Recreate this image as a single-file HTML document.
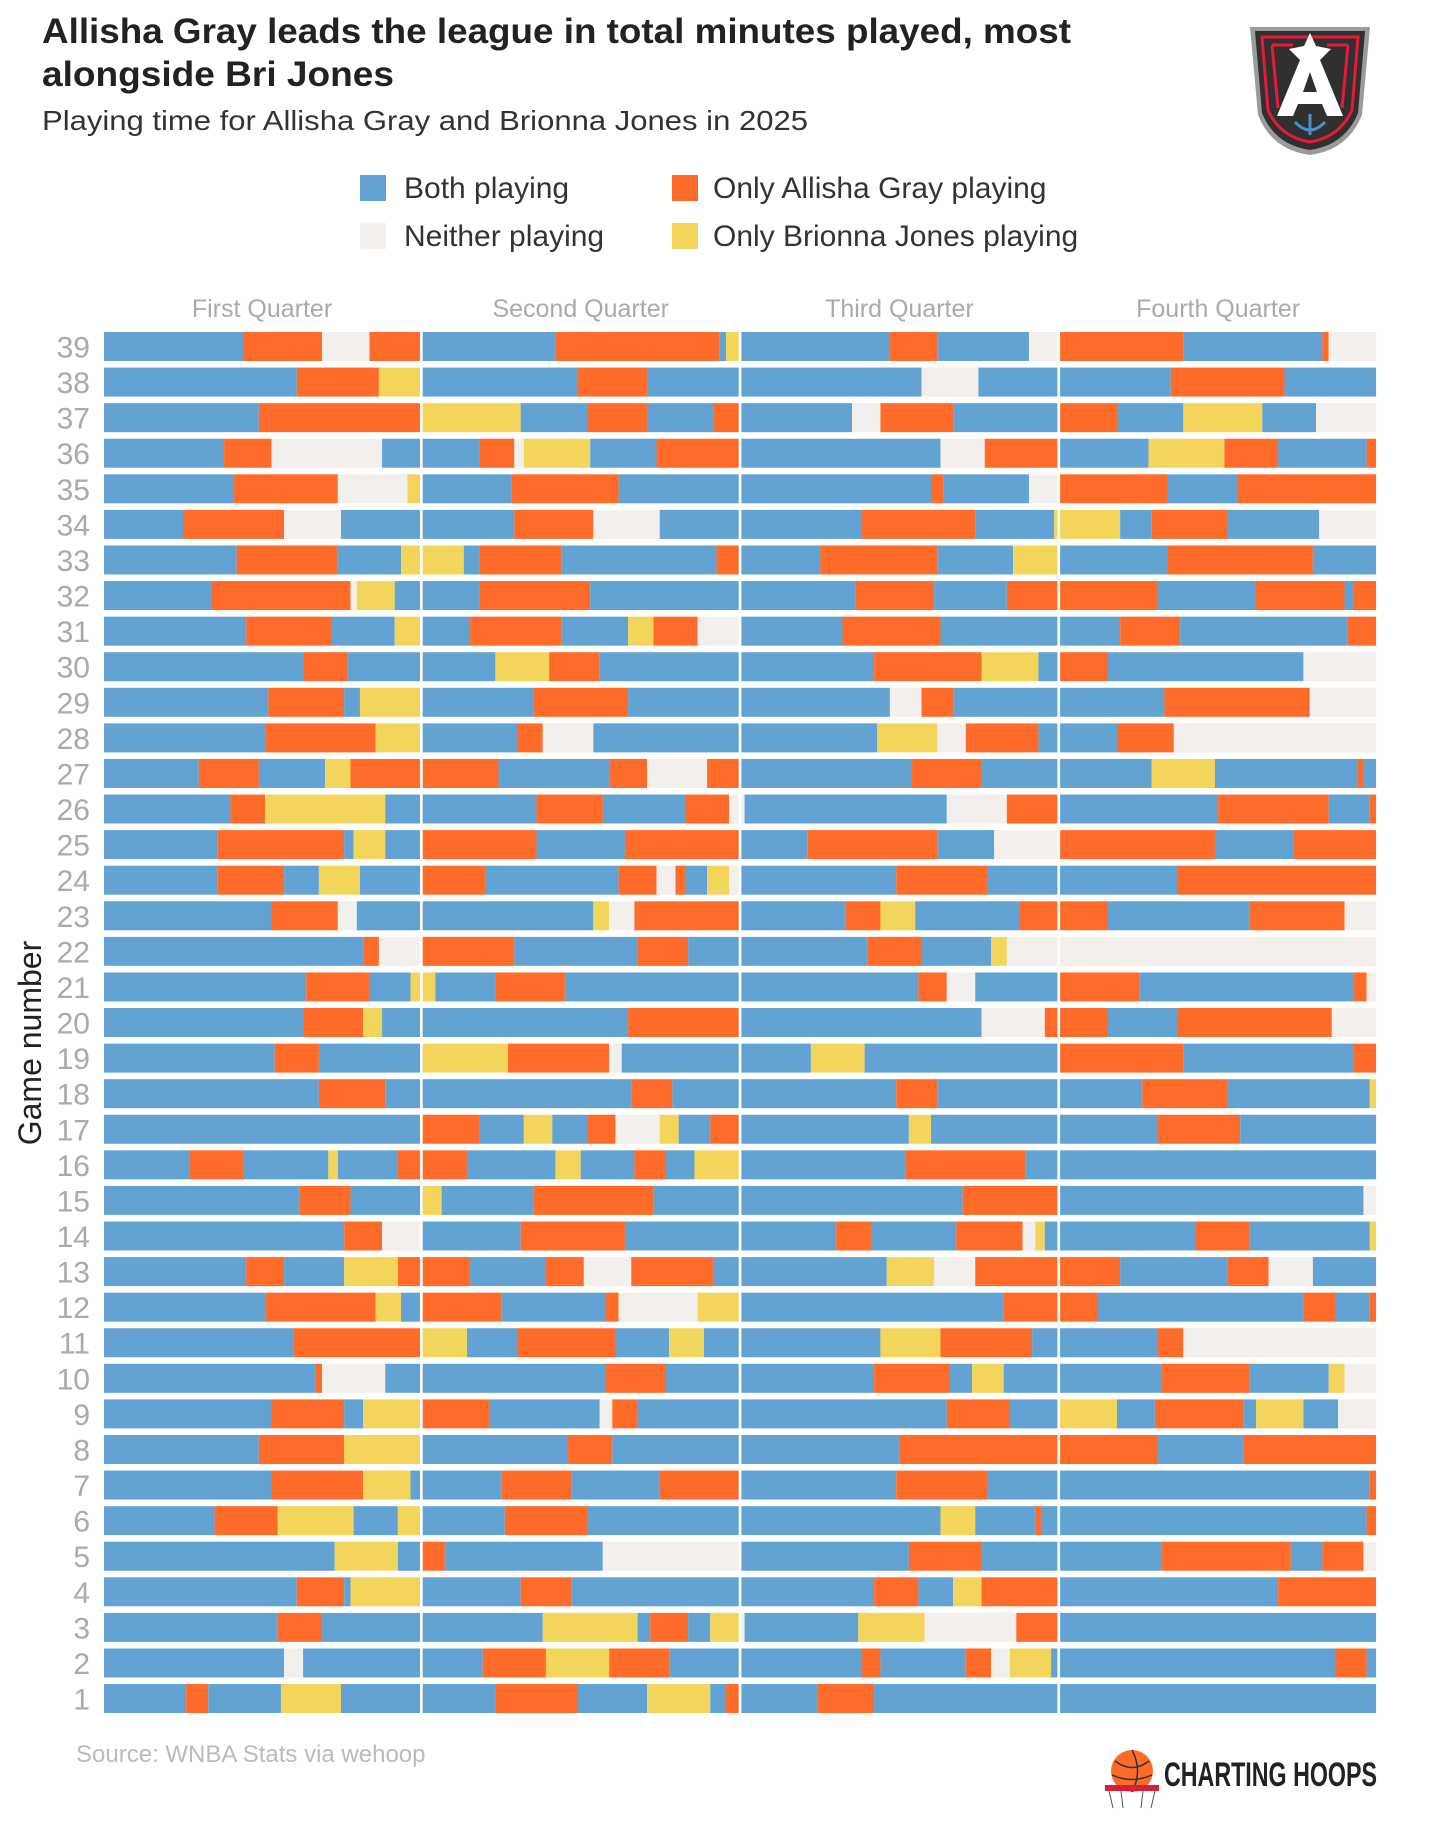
<!DOCTYPE html>
<html><head><meta charset="utf-8"><style>
html,body{margin:0;padding:0;background:#fff;}
body{width:1456px;height:1820px;overflow:hidden;font-family:"Liberation Sans",sans-serif;}
</style></head><body>
<svg id="chart" width="1456" height="1820" viewBox="0 0 1456 1820" xmlns="http://www.w3.org/2000/svg" font-family="Liberation Sans, sans-serif">
<text x="42" y="43" font-size="35" font-weight="bold" fill="#222" textLength="1029" lengthAdjust="spacingAndGlyphs">Allisha Gray leads the league in total minutes played, most</text>
<text x="42" y="86" font-size="35" font-weight="bold" fill="#222" textLength="352" lengthAdjust="spacingAndGlyphs">alongside Bri Jones</text>
<text x="42" y="130" font-size="28" fill="#333" textLength="766" lengthAdjust="spacingAndGlyphs">Playing time for Allisha Gray and Brionna Jones in 2025</text>
<g font-size="30" fill="#333">
<rect x="360" y="175" width="26" height="26" fill="#62A3D3"/>
<text x="404" y="198">Both playing</text>
<rect x="672" y="175" width="26" height="26" fill="#FF6C2A"/>
<text x="713" y="198">Only Allisha Gray playing</text>
<rect x="360" y="223" width="26" height="26" fill="#F3EFEC"/>
<text x="404" y="246">Neither playing</text>
<rect x="672" y="223" width="26" height="26" fill="#F4D55C"/>
<text x="713" y="246">Only Brionna Jones playing</text>
</g>
<g>
<path d="M1250 27 L1370 27 L1362 115 Q1348 150 1310 155 Q1272 150 1258 115 Z" fill="#9a9b9d"/>
<path d="M1255 31 L1365 31 L1358 113 Q1345 145 1310 150 Q1275 145 1262 113 Z" fill="#2f312f"/>
<path d="M1262 37 L1358 37 L1352 110 Q1340 137 1310 142 Q1280 137 1268 110 Z" fill="none" stroke="#e8173d" stroke-width="3"/>
<path d="M1272 45 L1293 45 M1327 45 L1348 45 M1272 45 L1278 108 M1348 45 L1342 108" fill="none" stroke="#e8173d" stroke-width="3"/>
<path d="M1310 33 L1316 46 L1331 49 L1320 60 L1343 116 L1327 116 L1322 104 L1298 104 L1293 116 L1277 116 L1300 60 L1289 49 L1304 46 Z M1310 72 L1303 92 L1317 92 Z" fill="#fff" fill-rule="evenodd"/>
<path d="M1295 122 Q1310 138 1325 122 M1310 114 L1310 135" fill="none" stroke="#4a90d0" stroke-width="3"/>
</g>
<text transform="translate(41,1043) rotate(-90)" text-anchor="middle" font-size="32" fill="#222">Game number</text>
<g id="panels"></g>
<text x="76" y="1762" font-size="24" fill="#bbb">Source: WNBA Stats via wehoop</text>
<g>
<circle cx="1132" cy="1771" r="21" fill="#FF6C2A"/>
<path d="M1115 1761 Q1132 1774 1149 1761 M1132 1750 Q1143 1771 1132 1792 M1112 1775 Q1132 1784 1152 1775" fill="none" stroke="#333" stroke-width="1.5"/>
<rect x="1105" y="1785" width="54" height="6" fill="#d6203a"/>
<path d="M1109 1791 L1113 1808 M1121 1791 L1123 1808 M1143 1791 L1141 1808 M1155 1791 L1151 1808" stroke="#555" stroke-width="1"/>
<text x="1164" y="1786" font-size="34" font-weight="bold" fill="#222" textLength="213" lengthAdjust="spacingAndGlyphs">CHARTING HOOPS</text>
</g>
</svg>
<script>
const games = [1,2,3,4,5,6,7,8,9,10,11,12,13,14,15,16,17,18,19,20,21,22,23,24,25,26,27,28,29,30,31,32,33,34,35,36,37,38,39];
const quarterLabels = ["First Quarter","Second Quarter","Third Quarter","Fourth Quarter"];
const q1 = ["B2.6 G0.7 B2.3 J1.9 B2.5","B5.7 N0.6 B3.7","B5.5 G1.4 B3.1","B6.1 G1.5 B0.2 J2.2","B7.3 J2.0 B0.7","B3.5 G2.0 J2.4 B1.4 J0.7","B5.3 G2.9 J1.5 B0.3","B4.9 G2.7 J2.4","B5.3 G2.3 B0.6 J1.8","B6.7 G0.2 N2.0 B1.1","B6.0 G4.0","B5.1 G3.5 J0.8 B0.6","B4.5 G1.2 B1.9 J1.7 G0.7","B7.6 G1.2 N1.2","B6.2 G1.6 B2.2","B2.7 G1.7 B2.7 J0.3 B1.9 G0.7","B10","B6.8 G2.1 B1.1","B5.4 G1.4 B3.2","B6.3 G1.9 J0.6 B1.2","B6.4 G2.0 B1.3 J0.3","B8.2 G0.5 N1.3","B5.3 G2.1 N0.6 B2.0","B3.6 G2.1 B1.1 J1.3 B1.9","B3.6 G4.0 B0.3 J1.0 B1.1","B4.0 G1.1 J3.8 B1.1","B3.0 G1.9 B2.1 J0.8 G2.2","B5.1 G3.5 J1.4","B5.2 G2.4 B0.5 J1.9","B6.3 G1.4 B2.3","B4.5 G2.7 B2.0 J0.8","B3.4 G4.4 N0.2 J1.2 B0.8","B4.2 G3.2 B2.0 J0.6","B2.5 G3.2 N1.8 B2.5","B4.1 G3.3 N2.2 J0.4","B3.8 G1.5 N3.5 B1.2","B4.9 G5.1","B6.1 G2.6 J1.3","B4.4 G2.5 N1.5 G1.6"];
const q2 = ["B2.3 G2.6 B2.2 J2.0 B0.5 G0.4","B1.9 G2.0 J2.0 G1.9 B2.2","B3.8 J3.0 B0.4 G1.2 B0.7 J0.9","B3.1 G1.6 B5.3","G0.7 B5.0 N4.3","B2.6 G2.6 B4.8","B2.5 G2.2 B2.8 G2.5","B4.6 G1.4 B4.0","G2.1 B3.5 N0.4 G0.8 B3.2","B5.8 G1.9 B2.3","J1.4 B1.6 G3.1 B1.7 J1.1 B1.1","G2.5 B3.3 G0.4 N2.5 J1.3","G1.5 B2.4 G1.2 N1.5 G2.6 B0.8","B3.1 G3.3 B3.6","J0.6 B2.9 G3.8 B2.7","G1.4 B2.8 J0.8 B1.7 G1.0 B0.9 J1.4","G1.8 B1.4 J0.9 B1.1 G0.9 N1.4 J0.6 B1.0 G0.9","B6.6 G1.3 B2.1","J2.7 G3.2 N0.4 B3.7","B6.5 G3.5","J0.4 B1.9 G2.2 B5.5","G2.9 B3.9 G1.6 B1.6","B5.4 J0.5 N0.8 G3.3","G2.0 B4.2 G1.2 N0.6 G0.3 B0.7 J0.7 N0.3","G3.6 B2.8 G3.6","B3.6 G2.1 B2.6 G1.4 N0.3","G2.4 B3.5 G1.2 N1.9 G1.0","B3.0 G0.8 N1.6 B4.6","B3.5 G3.0 B3.5","B2.3 J1.7 G1.6 B4.4","B1.5 G2.9 B2.1 J0.8 G1.4 N1.3","B1.8 G3.5 B4.7","J1.3 B0.5 G2.6 B4.9 G0.7","B2.9 G2.5 N2.1 B2.5","B2.8 G3.4 B3.8","B1.8 G1.1 N0.3 J2.1 B2.1 G2.6","J3.1 B2.1 G1.9 B2.1 G0.8","B4.9 G2.2 B2.9","B4.2 G5.2 B0.2 J0.4"];
const q3 = ["B2.4 G1.8 B5.8","B3.8 G0.6 B2.7 G0.8 N0.6 J1.3 B0.2","N0.1 B3.6 J2.1 N2.9 G1.3","B4.2 G1.4 B1.1 J0.9 G2.4","B5.3 G2.3 B2.4","B6.3 J1.1 B1.9 G0.2 B0.5","B4.9 G2.9 B2.2","B5.0 G5.0","B6.5 G2.0 B1.5","B4.2 G2.4 B0.7 J1.0 B1.7","B4.4 J1.9 G2.9 B0.8","B8.3 G1.7","B4.6 J1.5 N1.3 G2.6","B3.0 G1.1 B2.7 G2.1 N0.4 J0.3 B0.4","B7.0 G3.0","B5.2 G3.8 B1.0","B5.3 J0.7 B4.0","B4.9 G1.3 B3.8","B2.2 J1.7 B6.1","B7.6 N2.0 G0.4","B5.6 G0.9 N0.9 B2.6","B4.0 G1.7 B2.2 J0.5 N1.6","B3.3 G1.1 J1.1 B3.3 G1.2","B4.9 G2.9 B2.2","B2.1 G4.1 B1.8 N2.0","N0.1 B6.4 N1.9 G1.6","B5.4 G2.2 B2.4","B4.3 J1.9 N0.9 G2.3 B0.6","B4.7 N1.0 G1.0 B3.3","B4.2 G3.4 J1.8 B0.6","B3.2 G3.1 B3.7","B3.6 G2.5 B2.3 G1.6","B2.5 G3.7 B2.4 J1.4","B3.8 G3.6 B2.5 J0.1","B6.0 G0.4 B2.7 N0.9","B6.3 N1.4 G2.3","B3.5 N0.9 G2.3 B3.3","B5.7 N1.8 B2.5","B4.7 G1.5 B2.9 N0.9"];
const q4 = ["B10","B8.7 G1.0 B0.3","B10","B6.9 G3.1","B3.2 G4.1 B1.0 G1.3 N0.4","B9.7 G0.3","B9.8 G0.2","G3.1 B2.7 G4.2","J1.8 B1.2 G2.8 B0.4 J1.5 B1.1 N1.2","B3.2 G2.8 B2.5 J0.5 N1.0","B3.1 G0.8 N6.1","G1.2 B6.5 G1.0 B1.1 G0.2","G1.9 B3.4 G1.3 N1.4 B2.0","B4.3 G1.7 B3.8 J0.2","B9.6 N0.4","B10","B3.1 G2.6 B4.3","B2.6 G2.7 B4.5 J0.2","G3.9 B5.4 G0.7","G1.5 B2.2 G4.9 N1.4","G2.5 B6.8 G0.4 N0.3","N10","G1.5 B4.5 G3.0 N1.0","B3.7 G6.3","G4.9 B2.5 G2.6","B5.0 G3.5 B1.3 G0.2","B2.9 J2.0 B4.5 G0.2 B0.4","B1.8 G1.8 N6.4","B3.3 G4.6 N2.1","G1.5 B6.2 N2.3","B1.9 G1.9 B5.3 G0.9","G3.1 B3.1 G2.8 B0.3 G0.7","B3.4 G4.6 B2.0","J1.9 B1.0 G2.4 B2.9 N1.8","G3.4 B2.2 G4.4","B2.8 J2.4 G1.7 B2.8 G0.3","G1.8 B2.1 J2.5 B1.7 N1.9","B3.5 G3.6 B2.9","G3.9 B4.4 G0.2 N1.5"];

const quarters=[q1,q2,q3,q4];
const colors={B:"#62A3D3",G:"#FF6C2A",N:"#F3EFEC",J:"#F4D55C"};
const names={B:"both",G:"gray-only",N:"neither",J:"jones-only"};
const NS="http://www.w3.org/2000/svg";
const panelX0=104, panelPitch=318.7, panelW=316, minutes=10;
const rowTop39=332, rowPitch=35.58, barH=29;
function xScale(q,m){return panelX0+q*panelPitch+m/minutes*panelW;}
function yScale(g){return rowTop39+(39-g)*rowPitch;}
const root=document.getElementById('panels');
quarterLabels.forEach((lab,q)=>{
  const t=document.createElementNS(NS,'text');
  
  
  t.setAttribute('x',xScale(q,5));t.setAttribute('y',317);
  t.setAttribute('text-anchor','middle');t.setAttribute('font-size','25');t.setAttribute('fill','#aaa');
  t.textContent=lab;root.appendChild(t);
});
games.forEach((g,i)=>{
  const y=yScale(g);
  const t=document.createElementNS(NS,'text');
  
  
  t.setAttribute('x',90);t.setAttribute('y',y+barH/2+11);
  t.setAttribute('text-anchor','end');t.setAttribute('font-size','30');t.setAttribute('fill','#aaa');
  t.textContent=g;root.appendChild(t);
  quarters.forEach((arr,q)=>{
    let cum=0;
    arr[i].trim().split(/\s+/).forEach(seg=>{
      const c=seg[0], m=parseFloat(seg.slice(1));
      const x0=xScale(q,cum), x1=xScale(q,Math.min(minutes,cum+m));
      cum+=m;
      const r=document.createElementNS(NS,'rect');
      
      
      r.setAttribute('x',x0);r.setAttribute('y',y);
      r.setAttribute('width',Math.max(0,x1-x0));r.setAttribute('height',barH);
      r.setAttribute('fill',colors[c]);
      root.appendChild(r);
    });
  });
});
</script>
</body></html>
